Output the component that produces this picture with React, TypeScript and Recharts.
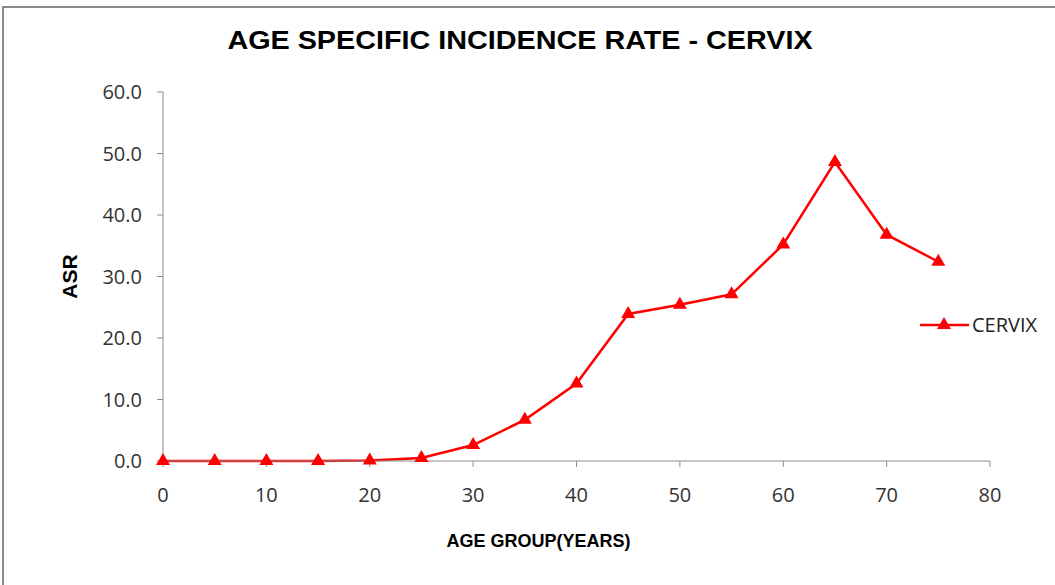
import React from "react";
import { LineChart, Line, XAxis, YAxis } from "recharts";

const ages = [0, 5, 10, 15, 20, 25, 30, 35, 40, 45, 50, 55, 60, 65, 70, 75];
const cervixRates = [0, 0, 0, 0, 0.1, 0.5, 2.6, 6.7, 12.6, 23.9, 25.4, 27.1, 35.2, 48.6, 36.8, 32.4];
const xTicks = [0, 10, 20, 30, 40, 50, 60, 70, 80];
const yTicks = [0, 10, 20, 30, 40, 50, 60];

const data = ages.map((age, i) => ({ age, CERVIX: cervixRates[i] }));

const RED = "#ff0000";
const AXIS = "#8c8c8c";
const tickFont = { fontFamily: "'Open Sans', sans-serif", fontSize: 20, fill: "#333" };

const TriangleDot = (props: any) => {
  const { cx, cy, index } = props;
  if (cx == null || cy == null) return null;
  return <path key={index} d={`M${cx},${cy - 8}L${cx + 7},${cy + 4}L${cx - 7},${cy + 4}Z`} fill={RED} />;
};

const App: React.FC = () => (
  <div style={{ position: "absolute", left: 0, top: 0, width: 1055, height: 585, background: "#fff", overflow: "hidden" }}>
    <div style={{ position: "absolute", left: 2, top: 6, width: 1100, height: 700, border: "2px solid #8a8a8a" }} />
    <div
      style={{
        position: "absolute", left: 0, top: 26, width: 1040, textAlign: "center",
        fontFamily: "'Liberation Sans', Arial, sans-serif", fontWeight: "bold", fontSize: 25, color: "#000",
        transform: "scaleX(1.15)", transformOrigin: "520px 0",
      }}
    >
      AGE SPECIFIC INCIDENCE RATE - CERVIX
    </div>
    <div style={{ position: "absolute", left: 0, top: 0 }}>
      <LineChart width={1055} height={585} data={data} margin={{ top: 92, right: 65, left: 0, bottom: 0 }}>
        <XAxis
          dataKey="age"
          type="number"
          domain={[0, 80]}
          ticks={xTicks}
          height={124}
          stroke={AXIS}
          tickSize={6}
          tickMargin={21}
          tick={tickFont}
          label={{
            value: "AGE GROUP(YEARS)", position: "insideBottom", offset: 38, dx: -38,
            style: { fontFamily: "'Liberation Sans', Arial, sans-serif", fontWeight: "bold", fontSize: 18, fill: "#000" },
          }}
        />
        <YAxis
          type="number"
          domain={[0, 60]}
          ticks={yTicks}
          width={163}
          stroke={AXIS}
          tickSize={6}
          tickMargin={15}
          tick={tickFont}
          tickFormatter={(v: number) => v.toFixed(1)}
          label={{
            value: "ASR", angle: -90, position: "insideLeft", offset: 70,
            style: { fontFamily: "'Liberation Sans', Arial, sans-serif", fontWeight: "bold", fontSize: 21, fill: "#000", textAnchor: "middle" },
          }}
        />
        <Line
          type="linear"
          dataKey="CERVIX"
          stroke={RED}
          strokeWidth={2.5}
          dot={TriangleDot}
          activeDot={false}
          isAnimationActive={false}
        />
      </LineChart>
    </div>
    <div style={{ position: "absolute", left: 920, top: 311, display: "flex", alignItems: "center" }}>
      <svg width={49} height={24}>
        <line x1={0} y1={12} x2={49} y2={12} stroke={RED} strokeWidth={2.5} />
        <path d="M24,4L31,16L17,16Z" fill={RED} />
      </svg>
      <span style={{ marginLeft: 3, fontFamily: "'Open Sans', sans-serif", fontSize: 20, color: "#222" }}>CERVIX</span>
    </div>
  </div>
);

export default App;
